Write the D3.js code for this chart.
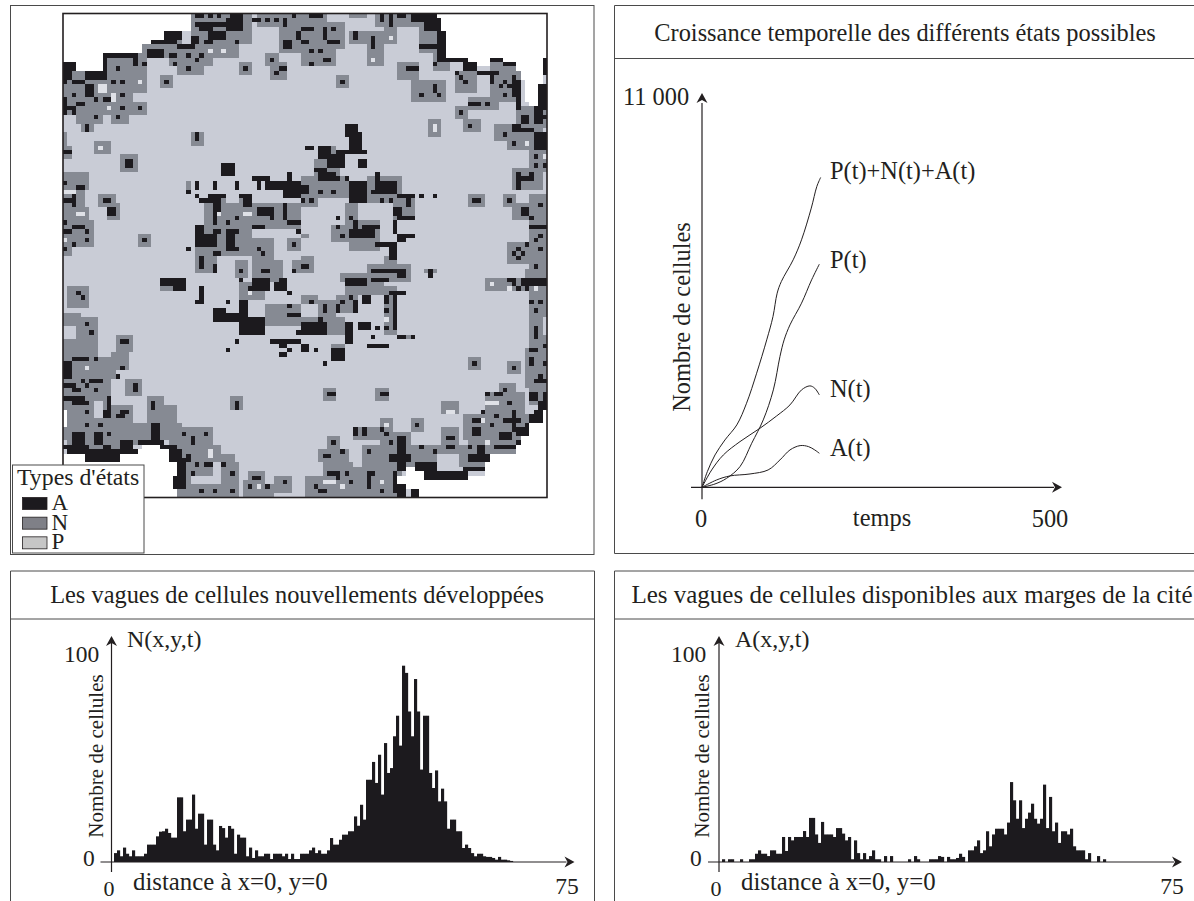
<!DOCTYPE html>
<html><head><meta charset="utf-8">
<script src="https://cdn.jsdelivr.net/npm/d3@7"></script>
<style>html,body{margin:0;background:#fff}svg{display:block}text{font-family:"Liberation Serif",serif;fill:#231f20}</style>
</head><body><svg id="c" width="1194" height="901"></svg>
<script>
// ---- data -----------------------------------------------------------
const titles = ["Croissance temporelle des différents états possibles",
  "Les vagues de cellules nouvellements développées",
  "Les vagues de cellules disponibles aux marges de la cité"];
const legendTitle = "Types d'états";
const stateNames = ["A","N","P"];
// map: cell blocks [col0,row0,col1,row1] on a 110 x 110 grid
const cellsN = [
[29,0,42,6],[18,7,39,9],[24,10,33,11],[26,12,31,13],[20,5,26,6],[44,0,59,2],[49,3,53,8],[54,2,63,7],[54,8,57,11],[58,8,61,11],[65,0,68,0],
[65,4,72,6],[69,7,72,11],[71,0,84,2],[73,3,75,6],[81,3,85,8],[84,9,87,12],[76,11,80,14],[79,15,86,19],[62,14,64,16],[83,24,85,27],
[40,11,42,13],[46,9,48,11],[47,11,50,14],[22,14,24,16],
[5,15,18,17],[0,18,15,19],[0,20,18,22],[3,23,8,24],[4,25,6,26],[11,23,14,24],[0,13,8,17],[10,10,16,14],[16,9,18,14],
[0,27,0,29],[0,30,1,32],[7,29,10,31],[13,32,16,35],[29,27,31,29],
[0,36,5,39],[0,40,4,43],[0,44,5,46],[0,47,6,52],[0,53,1,54],[8,41,11,43],[10,43,12,46],[17,50,19,52],
[28,38,28,39],[32,43,53,48],[30,49,42,54],[30,55,34,58],[39,56,41,59],[43,51,47,55],[43,56,49,60],[51,51,53,53],[52,56,53,58],[33,41,36,42],[40,41,42,43],
[22,60,27,62],[40,61,45,64],[46,66,53,70],[1,62,5,66],[0,68,3,70],[3,69,7,73],[0,74,7,77],[12,73,15,76],[11,77,14,80],[0,78,11,82],[0,83,10,96],[14,83,17,86],[10,89,15,92],[19,87,22,90],[22,89,25,92],[10,93,20,97],[1,97,12,100],[19,91,24,96],[24,93,26,100],
[26,94,33,97],[26,98,33,104],[26,105,28,106],[33,98,35,99],[33,100,38,101],[36,102,39,108],[26,107,39,109],[41,106,45,109],[42,104,45,105],[45,107,47,109],[48,105,51,108],[38,87,40,89],
[89,13,93,17],[97,10,103,19],[92,19,98,21],[89,21,91,23],[91,24,94,26],[103,21,109,25],[98,25,108,28],[101,29,108,30],[106,31,109,35],[102,35,108,39],[100,41,102,43],[92,41,95,43],[102,43,109,46],[106,41,109,42],[106,47,109,57],[101,52,105,56],[105,58,109,60],[96,60,109,62],[106,63,109,68],[106,69,108,72],[106,73,109,88],[105,76,109,84],[99,84,102,85],[96,86,104,90],[91,91,106,96],
[66,94,71,96],[72,92,74,94],[72,95,78,97],[78,98,92,102],[86,94,89,97],[92,97,103,99],[88,98,97,102],[79,92,81,94],[86,88,89,90],
[60,96,62,98],[58,99,64,101],[59,102,65,104],[55,105,65,109],[68,98,76,109],[66,103,68,109],
[54,37,64,41],[57,33,62,36],[58,30,61,32],[69,37,76,42],[75,41,79,46],[54,42,57,43],[64,43,66,48],[61,48,64,51],[65,47,71,53],[67,52,69,53],[73,55,75,56],[69,57,78,60],[82,58,84,58],[54,55,56,58],[54,50,55,50],[63,59,68,60],
[64,60,72,63],[73,62,75,72],[58,65,61,69],[62,64,66,67],[54,64,57,65],[54,69,63,72],[61,75,63,77],[76,73,79,73],[59,85,61,87],[71,85,73,87],[92,78,94,80],[101,79,103,81]
];
const cellsBlank = [
[0,0,28,3],[0,4,23,4],[0,5,22,5],[0,6,19,6],[0,7,17,8],[0,9,8,10],[3,11,8,12],[5,13,8,13],
[85,0,109,3],[87,4,109,9],[91,10,96,10],[100,10,108,10],[94,11,96,11],[103,11,108,12],[104,13,108,14],[105,15,107,19],[106,20,107,20],[108,14,108,15],
[0,100,4,109],[0,102,25,109],[13,100,24,101],[16,99,23,99],[18,98,21,98],[0,90,0,93],
[109,89,109,90],[108,91,109,92],[106,93,109,93],[104,94,109,97],[103,98,109,99],[97,100,109,101],[96,102,109,104],[91,105,109,105],[81,106,109,109],[78,103,82,104],[76,105,81,107]
];
const cellsP = [[85,100,89,102],[7,88,8,91]];
const cellsPale = [
[8,16,9,17],[11,18,11,19],[17,15,17,15],[10,21,10,21],[8,30,8,30],[0,40,2,40],[3,45,4,45],[0,51,0,51],[33,8,33,8],[36,8,36,8],[35,45,35,45],[41,45,42,45],
[5,80,5,80],[33,99,33,100],[44,107,44,107],[42,63,42,63],[70,10,70,10],[74,5,74,5],[105,29,105,29],[109,32,109,32],[84,25,84,26],
[73,69,73,69],[73,93,73,93],[87,90,88,90],[95,92,95,92],[96,88,98,88],[96,97,96,97],[59,106,61,106],[63,107,63,107],[72,106,72,106],[97,61,97,61],[101,62,101,62],[107,62,107,62]
];
const cellsA = [
[30,0,31,0],[33,0,33,0],[35,0,35,0],[38,0,40,1],[30,2,36,2],[31,3,33,3],[33,4,36,5],[37,1,40,3],[39,6,39,6],[29,5,30,6],[32,6,33,6],
[20,6,25,6],[23,4,26,5],[26,7,29,7],[19,8,22,9],[24,9,25,9],[28,9,28,9],[31,9,31,9],[30,10,30,10],[25,11,25,11],[28,12,28,12],
[43,1,44,1],[46,1,46,1],[48,1,48,1],[50,1,50,2],[52,0,52,0],[53,4,53,5],[50,6,51,7],[41,12,41,12],[47,10,47,10],[49,12,50,12],[48,13,48,13],[23,15,23,15],
[9,9,16,9],[9,9,9,14],[5,13,9,14],[0,11,2,12],[0,13,1,14],[16,10,16,11],[18,11,18,11],[12,12,12,12],
[2,15,4,15],[0,15,0,15],[5,16,6,18],[11,15,11,15],[13,15,13,15],[2,18,2,18],[7,19,7,19],[9,19,10,19],[13,18,13,18],[3,20,4,20],[0,19,0,22],[1,21,2,21],[2,22,2,22],[13,21,13,21],[17,21,17,21],[7,23,7,23],[12,23,12,23],[5,25,5,26],
[0,31,1,31],[14,33,15,34],[36,34,38,36],[30,27,30,28],[3,39,4,39],[0,38,0,38],[0,42,1,42],[2,41,2,43],[0,47,0,47],[2,48,4,48],[0,49,1,49],[5,49,5,49],[5,51,5,51],[2,52,2,52],[0,53,0,53],[9,42,10,42],[10,44,11,45],[18,51,18,51],
[30,38,30,39],[34,38,34,39],[39,38,39,39],[28,40,28,40],[43,37,46,37],[44,38,44,39],[46,38,53,39],[50,40,53,41],[51,36,51,37],[31,42,35,42],[30,41,30,41],[33,41,36,41],[40,41,40,41],[41,41,42,43],
[34,43,35,44],[34,45,34,47],[39,46,39,46],[44,44,47,45],[50,43,50,46],[51,47,53,47],[47,46,47,46],[37,47,37,47],[53,49,53,49],
[30,48,31,49],[30,50,34,52],[34,49,35,49],[34,51,34,51],[37,49,39,49],[37,50,38,52],[43,48,45,48],[37,53,39,53],[34,54,35,54],[28,53,28,53],[31,55,31,57],[34,57,34,58],[40,58,40,58],[40,60,40,60],[44,53,44,53],[45,54,45,54],[45,58,45,58],[46,58,46,58],[52,52,52,52],[52,58,52,58],[43,60,46,60],[49,60,50,60],
[22,60,24,61],[25,60,27,62],[31,62,31,65],[30,65,31,65],[37,65,37,65],[34,67,36,69],[37,68,40,69],[40,65,41,69],[40,69,45,72],[39,74,39,74],[37,76,37,76],[43,61,46,62],[48,61,50,62],[51,63,51,63],[42,62,42,62],[51,66,51,66],[51,68,53,68],[53,72,53,72],[47,74,50,74],[49,75,50,75],[49,77,50,77],[51,74,53,74],[51,76,51,76],
[3,63,3,63],[4,64,4,64],[5,70,5,70],[6,72,6,72],[13,74,14,74],[0,79,1,80],[2,78,5,78],[7,78,7,78],[12,82,12,82],[13,80,13,80],[0,81,1,82],[4,83,4,83],[6,83,7,83],[8,83,8,83],[0,84,2,84],[5,84,5,84],[2,85,3,85],[2,87,4,88],[0,87,1,87],[7,85,7,85],[10,87,10,89],[5,88,5,88],[5,90,5,90],[9,90,10,91],[12,91,13,91],[13,90,14,90],[5,93,5,93],[8,93,8,93],[10,95,10,95],[2,95,4,97],[7,95,8,97],[9,98,10,98],[13,97,15,98],[16,84,16,85],
[0,98,1,98],[1,98,5,99],[5,99,12,101],[12,99,16,99],[17,97,22,97],[20,93,21,96],[22,98,25,98],[24,99,26,101],[26,101,27,105],[25,105,27,107],
[20,88,20,89],[27,95,27,95],[32,95,32,95],[29,96,29,97],[28,100,28,100],[28,101,28,101],[30,102,30,102],[32,102,33,102],[36,102,36,102],[29,104,29,104],[38,104,38,104],[31,108,31,108],[34,108,34,108],[38,108,38,108],[43,105,44,105],[50,106,50,106],[42,107,42,107],[46,107,46,107],[39,88,39,89],
[56,0,58,0],[54,3,56,3],[59,3,59,5],[61,3,61,3],[60,6,62,6],[54,6,55,6],[56,8,56,8],[58,8,58,8],[56,11,56,11],[59,10,60,10],[66,4,66,5],[70,5,70,7],[72,0,72,1],[74,0,74,2],[76,0,77,0],[79,0,81,1],[82,0,84,3],[83,1,85,3],[85,4,86,10],[81,7,85,7],[87,10,91,10],[91,11,93,12],[94,13,97,13],[97,10,99,10],[100,11,102,11],[102,14,102,14],[102,15,103,18],[103,19,103,21],
[84,11,84,11],[89,13,89,13],[90,14,90,14],[91,15,91,15],[92,12,92,12],[97,14,97,15],[98,13,98,13],[99,16,99,16],[101,16,101,16],[100,15,100,15],[100,18,100,18],[92,20,94,20],[96,20,96,20],[90,22,90,22],[92,25,92,25],[63,15,63,15],[78,12,80,12],[81,18,81,18],[84,16,84,17],[85,18,85,18],
[109,10,109,13],[108,16,109,21],[107,21,108,24],[109,23,109,23],[104,23,105,24],[104,26,106,26],[102,25,103,26],[100,27,100,27],[102,29,102,29],[107,27,109,30],[107,32,107,32],[107,34,107,34],[109,34,109,34],[103,36,103,39],[104,37,105,37],[106,36,106,37],[101,42,101,42],[93,42,94,42],
[104,44,105,45],[106,46,106,46],[108,43,108,43],[106,48,109,48],[108,50,108,50],[107,51,107,51],[108,53,108,53],[102,54,102,54],[103,53,103,53],[104,54,104,54],[103,55,103,55],[105,52,105,52],[107,57,107,57],[101,60,101,60],[104,60,104,60],[108,60,108,60],
[64,25,66,27],[65,27,67,30],[62,31,68,31],[67,33,68,34],[55,30,56,30],[58,30,60,32],[60,32,63,34],[57,35,59,35],[58,36,61,37],[62,37,62,37],[64,37,64,37],[65,38,68,42],[71,38,75,40],[71,36,71,37],[70,40,71,40],[54,39,55,40],[58,40,58,40],[61,40,61,40],[56,42,56,42],[54,42,54,42],[72,42,72,42],[74,42,74,42],[76,41,79,41],[81,41,81,41],[84,41,84,41],[78,42,78,43],[75,44,76,45],[76,46,79,46],
[62,46,62,46],[62,48,62,48],[65,49,70,50],[68,48,71,48],[66,47,66,48],[65,46,65,46],[63,50,63,50],[71,52,75,52],[74,53,75,55],[75,47,75,49],[76,50,79,50],[76,51,77,51],[70,58,73,58],[74,58,77,58],[76,58,77,59],[70,60,73,60],[64,60,65,60],[83,58,83,59],[54,57,55,57],
[64,60,68,61],[74,63,77,63],[75,63,75,71],[73,64,73,65],[73,67,73,67],[73,71,73,71],[76,73,77,73],[79,73,79,73],[69,75,73,75],[70,73,70,73],
[56,65,56,65],[59,66,59,67],[63,65,63,65],[62,66,62,67],[65,64,65,64],[66,65,66,67],[68,64,69,65],[54,70,59,72],[58,69,58,69],[64,70,65,74],[67,70,69,71],[71,71,71,71],[65,71,65,71],[54,75,55,76],[57,76,57,76],[61,76,63,78],[59,79,59,79],
[93,79,93,79],[102,80,102,80],[60,86,61,86],[72,86,73,86],[80,93,80,93],
[102,60,102,61],[104,60,109,61],[103,62,103,62],[105,62,105,62],[106,65,106,65],[108,65,108,65],[107,67,107,67],[107,71,107,73],[109,75,109,75],[106,76,107,76],[106,78,106,79],[109,79,109,79],[107,83,109,83],[108,82,108,82],[106,86,107,87],[109,86,109,87],[108,88,109,89],[107,90,108,90],[106,91,108,92],[105,93,105,93],[103,94,105,95],[103,97,103,97],[98,98,102,98],
[92,100,96,101],[94,98,95,101],[91,103,95,103],[82,104,91,105],[80,102,84,103],[96,86,96,86],[98,86,99,86],[100,85,100,85],[95,90,95,90],[101,88,101,88],[98,91,98,91],[102,90,102,91],[100,92,103,92],[93,92,94,92],[97,93,97,93],[93,94,94,95],[99,95,101,96],[102,93,102,94],[87,96,88,96],[87,98,88,98],[92,98,92,98],[84,99,84,99],[81,98,81,98],
[76,96,77,99],[72,94,72,94],[73,95,73,95],[74,97,74,97],[74,100,78,101],[75,104,75,108],[76,102,77,103],[76,107,77,109],[79,108,80,109],[66,94,66,95],[68,94,68,95],[69,99,69,99],
[61,97,61,97],[59,100,60,100],[63,99,63,99],[60,104,61,104],[62,104,62,105],[64,104,64,104],[65,106,65,106],[69,105,69,107],[69,104,70,104],[72,108,72,108],[57,107,57,107],[58,108,59,108]
];
// time series (t, cells)
const tTotal = [0,7.7,18.7,33,50,64,78.5,93,102,108,114,131,143,157,165,170.5];
const vTotal = [0,442,912,1335,1758,2369,3215,4155,4813,5471,5800,6411,6975,7868,8479,8733];
const tP = [0,18.7,35.4,54.6,71.4,88,102.5,112,118,126.4,143,157.5,168.6];
const vP = [0,94,254,583,1241,1899,2745,3685,4155,4578,5189,5847,6289];
const tN = [0,13.9,30.7,54.6,83.3,107.3,126.4,143,155,162,168.6];
const vN = [0,489,912,1288,1664,2012,2322,2745,2858,2792,2604];
const tA = [0,21,40,69,95,112,126.4,141,153,162,168.6];
const vA = [0,207,320,376,489,771,1053,1175,1147,1053,959];
const seriesLabels = ["P(t)+N(t)+A(t)","P(t)","N(t)","A(t)"];
// histograms
const histN = [4.2,5.5,2.7,6.8,3.9,2.7,5.5,2.7,2.7,2.7,3.9,8.2,8.2,8.2,12.1,14.3,14.5,15.7,13.7,11.5,11.5,30.5,30.5,14.5,20,20,31.8,15.7,22.8,22.8,8.2,20,20,8.2,5.5,17,16,11.5,17,15.7,3.9,12.9,11.5,11.5,2.7,6.8,1.9,5.5,2.7,2.7,3.9,3.9,1.4,3.9,3.9,3.9,2.7,3.9,1.4,3.9,1.4,1.4,3.9,3.9,3.9,5.5,6.8,4.2,5.5,
3.9,3.9,5.5,11.3,8.2,8.2,10.5,12.9,12.9,14.5,14.5,21.5,17.1,27,20,38.8,38.8,47.2,37.3,50.6,31.8,56.1,42,44.3,59.3,69,54.9,92.6,89.2,71,59.3,86.3,71,43.6,69,69,42,34.9,43.2,28.6,34.6,28.6,15.7,20,20,14.5,14.5,6.6,8.2,6.6,4.2,2.7,3.9,3.9,2.7,2.4,2.4,1.9,1.1,2.4,1.1,1.1,.8,.5];
const histA = [1.3,0,1.3,1.3,0,0,1.3,0,0,1.3,1.3,3.9,5.5,3.9,3.9,2.8,5.5,5.5,3.9,3.9,11.8,5.2,11.8,10.2,11.8,11.8,11.8,14.6,11.8,20.8,20.8,13,9,18.9,13,13,13,11.8,16,16,13.4,10.2,11.8,1.3,10.2,4.2,1.3,4.2,1.3,2.8,5.5,1.3,1.3,0,2.8,0,2.8,0,0,0,0,0,1.3,0,2.8,1.3,0,0,0,1.3,1.3,1.3,2.8,
2.4,0,2.4,1.3,1.3,1.9,3.9,2.4,0,5.5,5.5,7.4,10.2,4.2,5.5,14.5,7.4,13,15.7,15.7,15.7,13,18.6,37.7,29.1,20.4,29.1,16,20.4,23.3,27.5,20.4,18.1,20.4,36.5,16,30.7,14.5,18.6,9,14.5,14.5,13,15.7,7.4,5.5,5.5,5.5,1.3,4.2,0,0,2.8,0,1.3];
const histAxisLabels = ["Nombre de cellules","distance à x=0, y=0"];

// ---- drawing --------------------------------------------------------
const C = {A:"#1c1a1e",N:"#868a93",P:"#c9ccd6",pale:"#dfe1e7",ink:"#231f20",frame:"#4a4a4a"};
const svg = d3.select("#c");
const line = (x1,y1,x2,y2,w=1,col=C.frame)=>svg.append("line").attr("x1",x1).attr("y1",y1).attr("x2",x2).attr("y2",y2).attr("stroke",col).attr("stroke-width",w);
const text = (s,x,y,size,anchor="start",rot=null)=>{const t=svg.append("text").text(s).attr("font-size",size).attr("text-anchor",anchor);
  if(rot!==null)t.attr("transform",`translate(${x},${y}) rotate(${rot})`);else t.attr("x",x).attr("y",y);return t;};
const arrow=(x,y,dir)=>{const a=5.5,l=10,b=3;const p=dir==="up"?[[x,y],[x+a,y+l],[x,y+l-b],[x-a,y+l]]:[[x,y],[x-l,y-a],[x-l+b,y],[x-l,y+a]];
  svg.append("polygon").attr("points",p.join(" ")).attr("fill",C.ink);};

// panel frames
svg.append("rect").attr("x",10.5).attr("y",5.5).attr("width",583.5).attr("height",549).attr("fill","#fff").attr("stroke",C.frame);
svg.append("path").attr("d","M1194 5.5H614.5V553.5H1194M614.5 58.5H1194").attr("fill","none").attr("stroke",C.frame);
svg.append("path").attr("d","M594.5 901V571H10.5V901M10.5 619H594.5").attr("fill","none").attr("stroke",C.frame);
svg.append("path").attr("d","M1194 571H614.5V901M614.5 619H1194").attr("fill","none").attr("stroke",C.frame);
text(titles[0],905,41,24.4,"middle");
text(titles[1],297,603,24.4,"middle");
text(titles[2],912,603,25,"middle");

// map
const gx=d3.scaleBand().domain(d3.range(110)).range([63,547]);
const gy=d3.scaleBand().domain(d3.range(110)).range([13.5,497.5]);
const mapG=svg.append("g").attr("shape-rendering","crispEdges");
mapG.append("rect").attr("x",gx.range()[0]).attr("y",gy.range()[0]).attr("width",gx.range()[1]-gx.range()[0]).attr("height",gy.range()[1]-gy.range()[0]).attr("fill",C.P);
const block=(list,col)=>mapG.append("g").attr("fill",col).selectAll("rect").data(list).join("rect")
  .attr("x",d=>gx(d[0])).attr("y",d=>gy(d[1])).attr("width",d=>gx(d[2])+gx.bandwidth()-gx(d[0])).attr("height",d=>gy(d[3])+gy.bandwidth()-gy(d[1]));
block(cellsN,C.N);block(cellsBlank,"#fff");block(cellsP,C.P);block(cellsPale,C.pale);block(cellsA,C.A);
svg.append("rect").attr("x",gx.range()[0]).attr("y",gy.range()[0]).attr("width",gx.range()[1]-gx.range()[0]).attr("height",gy.range()[1]-gy.range()[0]).attr("fill","none").attr("stroke",C.ink).attr("stroke-width",1.6);

// legend
svg.append("rect").attr("x",12.5).attr("y",465).attr("width",131.5).attr("height",88).attr("fill","#fff").attr("stroke",C.frame);
text(legendTitle,17,485,23.8);
const legY=d3.scaleBand().domain(stateNames).range([494,553]);
const swatch={A:C.A,N:"#7f8087",P:"#c6c6c6"};
stateNames.forEach(k=>{
  svg.append("rect").attr("x",22.5).attr("y",legY(k)+3.5).attr("width",24.5).attr("height",12).attr("fill",swatch[k]).attr("stroke",C.ink).attr("stroke-width",.8);
  text(k,51.5,legY(k)+16,23);
});

// time chart
const xT=d3.scaleLinear().domain([0,500]).range([702,1050]);
const yT=d3.scaleLinear().domain([0,11000]).range([487.3,97]);
line(xT(0),yT(0)+12,xT(0),yT(11000)+6,1.2,C.ink);
line(xT(0)-11,yT(0),1054,yT(0),1.2,C.ink);
arrow(xT(0),yT(11000)-4,"up");arrow(1062,yT(0),"right");
const lg=d3.line().curve(d3.curveCatmullRom.alpha(.5));
[[tTotal,vTotal],[tP,vP],[tN,vN],[tA,vA]].forEach(([ts,vs])=>{
  svg.append("path").attr("d",lg(ts.map((t,i)=>[xT(t),yT(vs[i])]))).attr("fill","none").attr("stroke",C.ink).attr("stroke-width",1);
});
[179,268,397,456].forEach((y,i)=>text(seriesLabels[i],830,y,24.4));
text("11 000",623,105,24.4);
text("0",701,527,24.4,"middle");
text("temps",882,526,24.4,"middle");
text("500",1050,527,24.4,"middle");
text("Nombre de cellules",690,317,24.4,"middle",-90);

// histograms
function hist(vals,xAxis,barX0,labelSym,lblX,hundredX,zeroX,zero2X,distX,seventyX,yLblX){
  const xb=d3.scaleBand().domain(d3.range(vals.length)).range([barX0,barX0+3*vals.length]);
  const y=d3.scaleLinear().domain([0,100]).range([862,650]);
  svg.append("g").attr("fill",C.A).selectAll("rect").data(vals).join("rect")
    .attr("x",(d,i)=>xb(i)).attr("width",xb.bandwidth()+.15).attr("y",d=>y(d)).attr("height",d=>y(0)-y(d));
  line(xAxis,872,xAxis,y(100)-8,1.2,C.ink);
  line(xAxis-11,y(0),xAxis+455,y(0),1.2,C.ink);
  arrow(xAxis,y(100)-14,"up");arrow(xAxis+463,y(0),"right");
  text(labelSym,lblX,647,24);
  text("100",hundredX,662,23.5);
  text("0",zeroX,866,23.5);
  text("0",zero2X,896,22,"middle");
  text(histAxisLabels[1],distX,890,24.8);
  text("75",seventyX,894,23.5,"middle");
  text(histAxisLabels[0],yLblX,756,21,"middle",-90);
}
hist(histN,111.5,114,"N(x,y,t)",127,64,83,109,133,567,103);
hist(histA,719,722,"A(x,y,t)",735,671,690,716,741,1172,709);
</script></body></html>
